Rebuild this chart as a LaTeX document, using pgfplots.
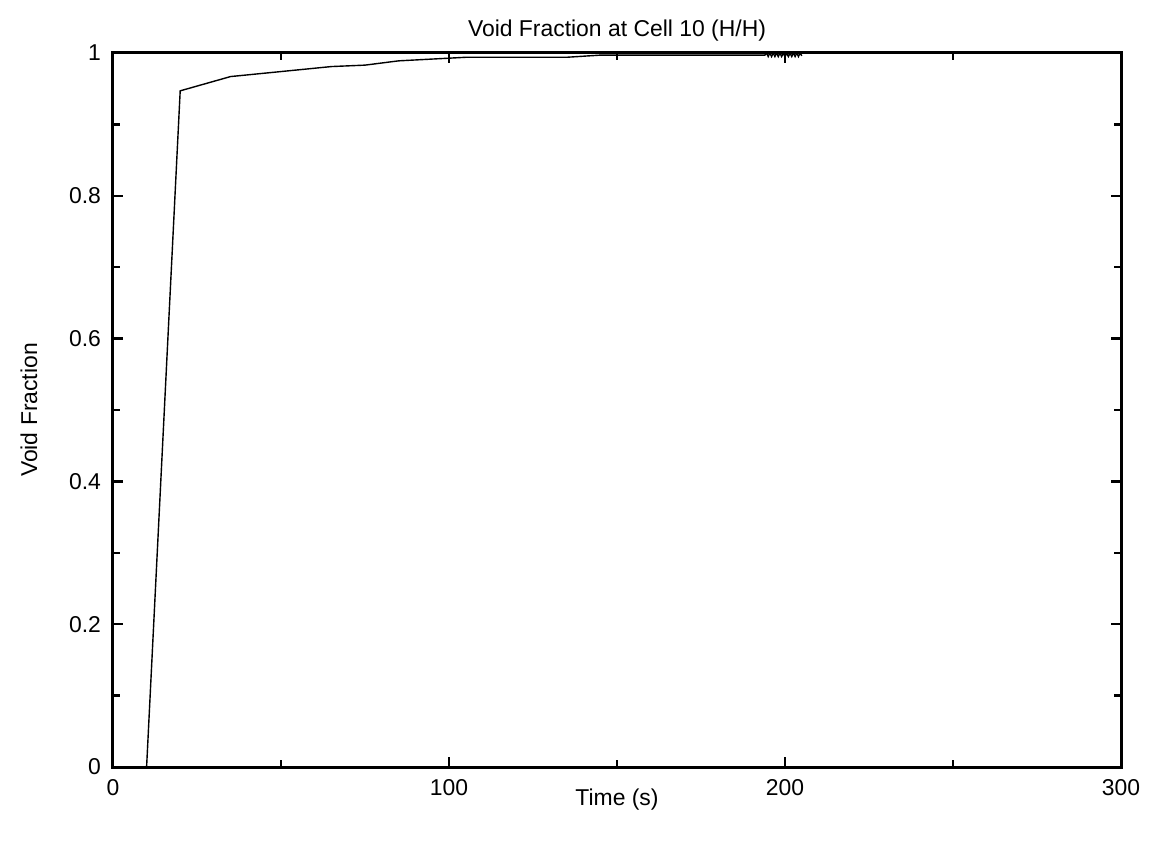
\documentclass[border=0pt]{standalone}
\usepackage{fontspec}
\setmainfont{Liberation Sans}
\usepackage{pgfplots}
\pgfplotsset{compat=1.18}
\begin{document}
\fontsize{11.5}{13}\selectfont
\begin{tikzpicture}
\useasboundingbox (-56.5bp,-37.5bp) rectangle (525.5bp,383.5bp);
\begin{axis}[
  at={(0,0)}, anchor=south west,
  scale only axis,
  width=504bp, height=357bp,
  xmin=0, xmax=300, ymin=0, ymax=1,
  xtick={0,100,200,300},
  minor xtick={50,150,250},
  ytick={0,0.2,0.4,0.6,0.8,1},
  yticklabels={0,0.2,0.4,0.6,0.8,1},
  minor ytick={0.1,0.3,0.5,0.7,0.9},
  tick align=inside,
  major tick length=5bp, minor tick length=3.5bp,
  every tick/.style={line width=1.2bp, black},
  axis line style={line width=1.5bp},
  tick label style={font=\fontsize{11.5}{13}\selectfont},
  /pgf/number format/assume math mode=true,
  xticklabel style={yshift=-2bp},
  yticklabel style={xshift=-2bp},
  title={Void Fraction at Cell 10 (H/H)},
  title style={font=\fontsize{11.5}{13}\selectfont, yshift=-4bp},
  xlabel={Time (s)},
  ylabel={Void Fraction},
  label style={font=\fontsize{11.5}{13}\selectfont},
  xlabel style={yshift=11bp},
  ylabel style={yshift=8bp},
  clip=false,
]
\addplot[black, line width=0.7bp] coordinates {
(10,0) (20,0.947) (35,0.967) (50,0.974) (65,0.981) (75,0.983) (85,0.989)
(105,0.994) (135,0.994) (145,0.997) (194,0.997)
(194.5,1.0) (195,0.995) (195.5,1.0) (196,0.995) (196.5,1.0) (197,0.995)
(197.5,1.0) (198,0.995) (198.5,1.0) (199,0.995) (199.5,1.0) (200,0.995)
(200.5,1.0) (201,0.995) (201.5,1.0) (202,0.995) (202.5,1.0) (203,0.995)
(203.5,1.0) (204,0.995) (204.5,1.0) (205,0.996)
};
\end{axis}
\end{tikzpicture}
\end{document}
